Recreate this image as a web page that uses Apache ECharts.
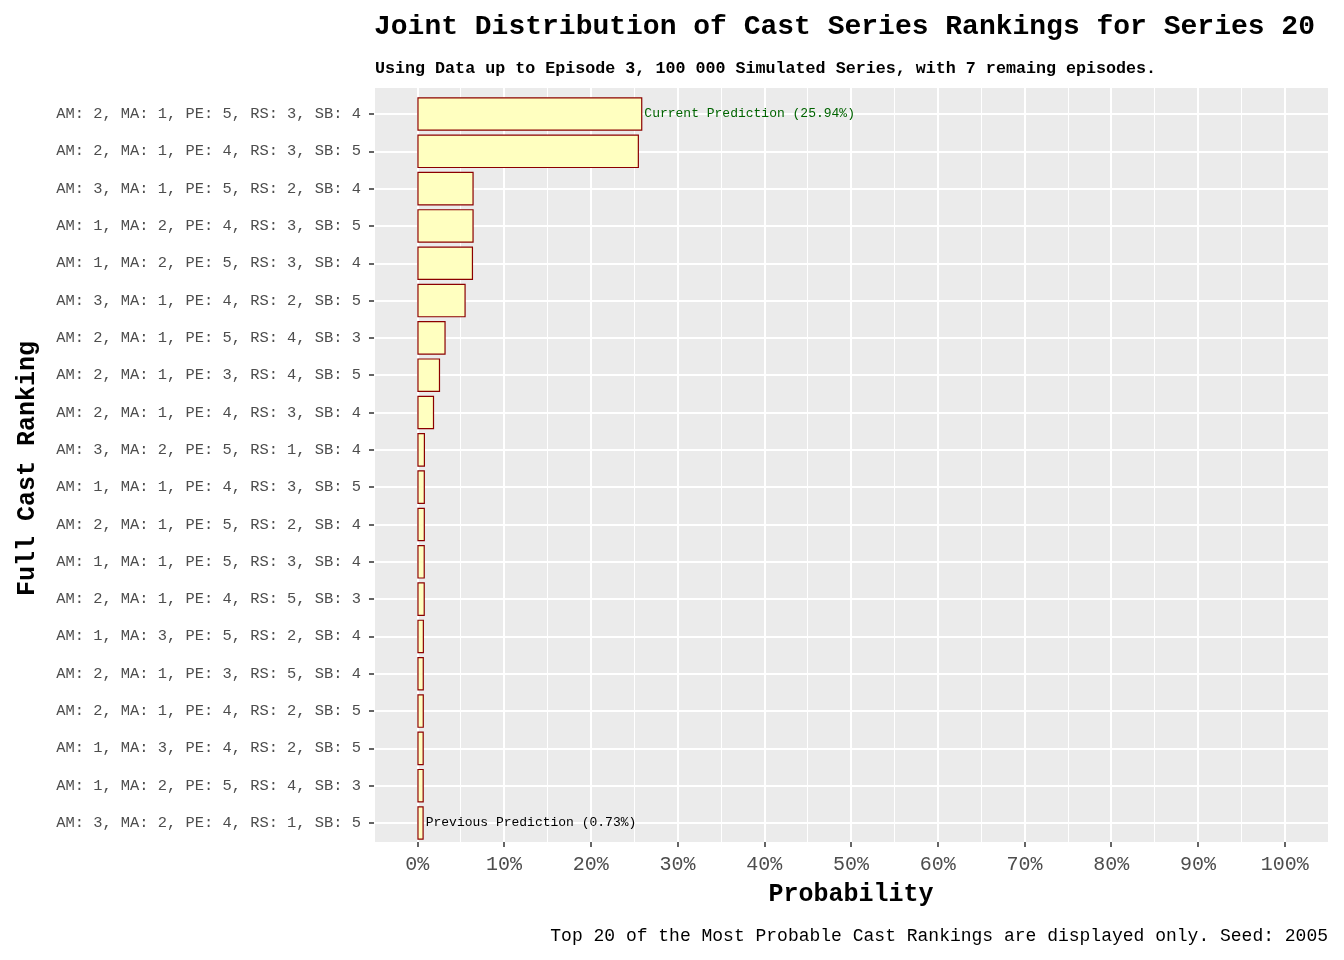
<!DOCTYPE html>
<html>
<head>
    <meta charset="utf-8">
    <title>ECharts</title>
    <script src="https://cdn.jsdelivr.net/npm/echarts@6/dist/echarts.min.js"></script>
    <style>
        html, body { margin: 0; padding: 0; background: #ffffff; }
    </style>
</head>
<body>
<div id="main" style="width: 1344px;height:960px;"></div>
</body>

<script type="text/javascript">

    // top 20 joint rankings, most probable first
    var rankings = [
        'AM: 2, MA: 1, PE: 5, RS: 3, SB: 4',
        'AM: 2, MA: 1, PE: 4, RS: 3, SB: 5',
        'AM: 3, MA: 1, PE: 5, RS: 2, SB: 4',
        'AM: 1, MA: 2, PE: 4, RS: 3, SB: 5',
        'AM: 1, MA: 2, PE: 5, RS: 3, SB: 4',
        'AM: 3, MA: 1, PE: 4, RS: 2, SB: 5',
        'AM: 2, MA: 1, PE: 5, RS: 4, SB: 3',
        'AM: 2, MA: 1, PE: 3, RS: 4, SB: 5',
        'AM: 2, MA: 1, PE: 4, RS: 3, SB: 4',
        'AM: 3, MA: 2, PE: 5, RS: 1, SB: 4',
        'AM: 1, MA: 1, PE: 4, RS: 3, SB: 5',
        'AM: 2, MA: 1, PE: 5, RS: 2, SB: 4',
        'AM: 1, MA: 1, PE: 5, RS: 3, SB: 4',
        'AM: 2, MA: 1, PE: 4, RS: 5, SB: 3',
        'AM: 1, MA: 3, PE: 5, RS: 2, SB: 4',
        'AM: 2, MA: 1, PE: 3, RS: 5, SB: 4',
        'AM: 2, MA: 1, PE: 4, RS: 2, SB: 5',
        'AM: 1, MA: 3, PE: 4, RS: 2, SB: 5',
        'AM: 1, MA: 2, PE: 5, RS: 4, SB: 3',
        'AM: 3, MA: 2, PE: 4, RS: 1, SB: 5'
    ];

    // probability in %
    var probs = [25.94, 25.55, 6.49, 6.49, 6.42, 5.57, 3.26, 2.62, 1.93, 0.88,
                 0.87, 0.87, 0.86, 0.86, 0.76, 0.75, 0.75, 0.74, 0.74, 0.73];

    var xTicks = [0, 10, 20, 30, 40, 50, 60, 70, 80, 90, 100];

    var currentIdx = 0;   // current prediction
    var previousIdx = 19; // previous prediction

    var titleText = 'Joint Distribution of Cast Series Rankings for Series 20';
    var subtitleText = 'Using Data up to Episode 3, 100 000 Simulated Series, with 7 remaing episodes.';
    var captionText = 'Top 20 of the Most Probable Cast Rankings are displayed only. Seed: 2005';

    var font = "'Liberation Mono', 'DejaVu Sans Mono', monospace";

    var barData = probs.map(function (v, i) {
        var item = { value: v };
        if (i === currentIdx) {
            item.label = {
                show: true, position: 'right', distance: 2,
                color: '#006400', fontSize: 13, fontFamily: font,
                formatter: 'Current Prediction (' + v.toFixed(2) + '%)'
            };
        } else if (i === previousIdx) {
            item.label = {
                show: true, position: 'right', distance: 2,
                color: '#000000', fontSize: 13, fontFamily: font,
                formatter: 'Previous Prediction (' + v.toFixed(2) + '%)'
            };
        }
        return item;
    });

    var myChart = echarts.init(document.getElementById('main'));

    myChart.setOption({
        animation: false,
        title: [
            { text: titleText, left: 369, top: 8,
              textStyle: { fontFamily: font, fontSize: 28, fontWeight: 'bold', color: '#000' } },
            { text: subtitleText, left: 370, top: 55,
              textStyle: { fontFamily: font, fontSize: 16.7, fontWeight: 'bold', color: '#000' } },
            { text: captionText, right: 11, top: 922,
              textStyle: { fontFamily: font, fontSize: 18, fontWeight: 'normal', color: '#000' } }
        ],
        grid: [
            // panel
            { left: 374, right: 16, top: 88, bottom: 118, show: true,
              backgroundColor: '#EBEBEB', borderWidth: 0 },
            // category centres
            { left: 374, right: 16, top: 114, bottom: 137 }
        ],
        xAxis: [
            { type: 'value', gridIndex: 0, min: -5, max: 105,
              name: 'Probability', nameLocation: 'middle', nameGap: 40,
              nameTextStyle: { fontFamily: font, fontSize: 25, fontWeight: 'bold', color: '#000' },
              axisLine: { show: false, onZero: false },
              axisTick: { show: true, length: 5, customValues: xTicks,
                          lineStyle: { color: '#333333', width: 1.5 } },
              axisLabel: { customValues: xTicks, margin: 13, fontFamily: font, fontSize: 20,
                           color: '#4D4D4D', formatter: function (v) { return v + '%'; } },
              splitLine: { show: true, lineStyle: { color: '#ffffff', width: 2 } } },
            // minor grid
            { type: 'value', gridIndex: 0, min: -5, max: 105, interval: 10,
              axisLine: { show: false, onZero: false }, axisTick: { show: false },
              axisLabel: { show: false },
              splitLine: { show: true, lineStyle: { color: '#ffffff', width: 1 } } },
            { type: 'value', gridIndex: 1, min: -5, max: 105, show: false }
        ],
        yAxis: [
            { type: 'value', gridIndex: 0, show: false },
            { type: 'category', gridIndex: 1, data: rankings, inverse: true, boundaryGap: false,
              name: 'Full Cast Ranking', nameLocation: 'middle', nameGap: 334,
              nameTextStyle: { fontFamily: font, fontSize: 25, fontWeight: 'bold', color: '#000' },
              axisLine: { show: false, onZero: false },
              axisTick: { show: true, length: 5, lineStyle: { color: '#333333', width: 1.5 } },
              axisLabel: { margin: 13, fontFamily: font, fontSize: 15.4, color: '#4D4D4D',
                           interval: 0 },
              splitLine: { show: true, lineStyle: { color: '#ffffff', width: 2 } } }
        ],
        series: [{
            name: 'Probability',
            type: 'bar',
            xAxisIndex: 2,
            yAxisIndex: 1,
            barWidth: '90%',
            clip: false,
            data: barData,
            itemStyle: { color: '#FFFFC0', borderColor: '#8B0000', borderWidth: 1.2 }
        }]
    });

</script>
</html>
